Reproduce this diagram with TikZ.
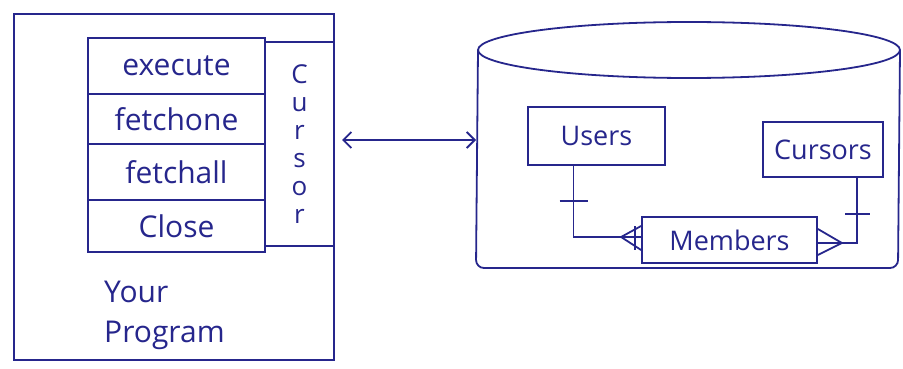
\documentclass[tikz,border=0pt]{standalone}
\usepackage{fontspec}
\setmainfont{Open Sans}
\usetikzlibrary{arrows.meta,calc}
\definecolor{ink}{RGB}{38,38,140}
\begin{document}
\begin{tikzpicture}[x=1pt,y=-1pt,line width=1.8pt,color=ink,
  box/.style={draw=ink,line width=1.8pt,inner sep=0pt},
  lbl/.style={text=ink,font=\fontsize{30}{32}\selectfont},
  erl/.style={text=ink,font=\fontsize{27}{29}\selectfont},
  tip/.style={{Straight Barb[length=8pt,width=16pt]}-{Straight Barb[length=8pt,width=16pt]}}]
\useasboundingbox (0,0) rectangle (903,369);
% program box
\node[box,minimum width=320pt,minimum height=346pt] (prog) at (174,187) {};
\node[box,lbl,minimum width=177pt,minimum height=56pt] (execute) at (176.5,66) {execute};
\node[box,lbl,minimum width=177pt,minimum height=50pt] (fetchone) at (176.5,119) {fetchone};
\node[box,lbl,minimum width=177pt,minimum height=56pt] (fetchall) at (176.5,172) {fetchall};
\node[box,lbl,minimum width=177pt,minimum height=52pt] (close) at (176.5,226) {Close};
\node[box,minimum width=69pt,minimum height=204pt] (cursorcol) at (299.5,144) {};
\node[text=ink,font=\fontsize{26}{28}\selectfont,align=center] (cursortxt) at (cursorcol.center) {C\\u\\r\\s\\o\\r};
\node[lbl,anchor=west,align=left,font=\fontsize{30}{40}\selectfont] (yourprog) at (100,315) {Your\\Program};
% database cylinder
\draw (689,50) ellipse [x radius=211pt,y radius=28pt];
\draw[rounded corners=8pt] (478,50) -- (476,268) -- (898,268) -- (900,50);
% arrow
\coordinate (a1) at (342,140);
\coordinate (a2) at (476,140);
\draw[tip] (a1) -- (a2);
% ER entities
\node[box,erl,minimum width=137pt,minimum height=58pt] (users) at (596.5,136) {Users};
\node[box,erl,minimum width=120pt,minimum height=55pt] (cursors) at (823,149.5) {Cursors};
\node[box,erl,minimum width=175pt,minimum height=46pt] (members) at (729.5,240) {Members};
% relationships
\draw ([xshift=-23pt]users.south) |- ([yshift=3pt]members.west);
\draw ($([xshift=-23pt]users.south)+(-14,35)$) -- ++(28,0);
\draw ($(members.west)+(0,-14)$) -- ($(members.west)+(-20,-3)$) -- ($(members.west)+(0,10)$);
\draw ($(members.west)+(-6,-14)$) -- ($(members.west)+(-6,10)$);
\draw ([xshift=34pt]cursors.south) |- ([yshift=-3pt]members.east);
\draw ($([xshift=34pt]cursors.south)+(-12,36)$) -- ++(25,0);
\draw ($(members.east)+(0,-11)$) -- ($(members.east)+(24,3)$) -- ($(members.east)+(0,15)$);
\end{tikzpicture}
\end{document}
